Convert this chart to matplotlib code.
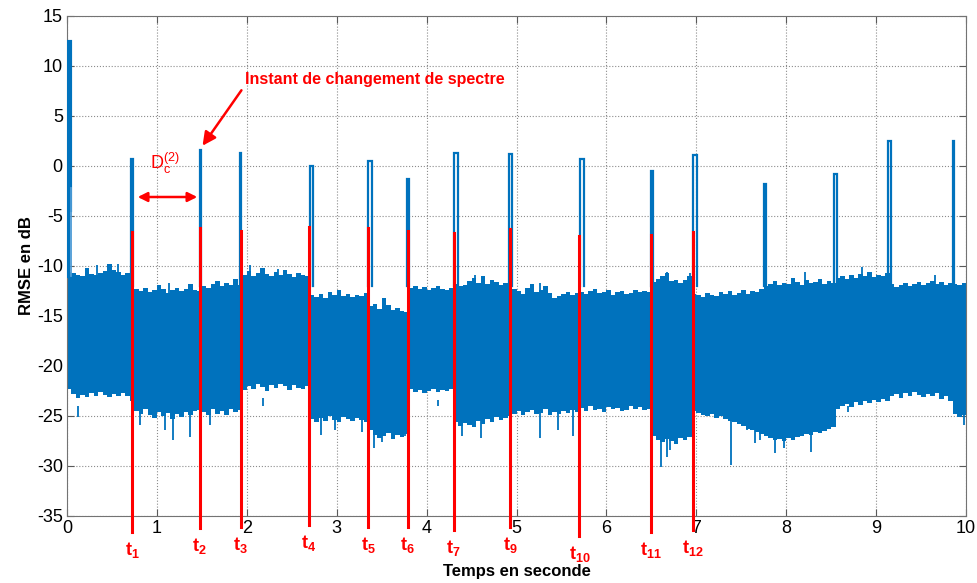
import numpy as np
import matplotlib
matplotlib.use('Agg')
import matplotlib.pyplot as plt

plt.rcParams['font.family'] = ['Liberation Sans', 'DejaVu Sans']
plt.rcParams['mathtext.fontset'] = 'custom'
plt.rcParams['mathtext.rm'] = 'Liberation Sans'
plt.rcParams['mathtext.bf'] = 'Liberation Sans:bold'
plt.rcParams['mathtext.it'] = 'Liberation Sans:italic'
plt.rcParams['axes.unicode_minus'] = False

# -- data ---------------------------------------------------------------
# noise band, one value per 0.05 s bin (0 .. 10 s)
band_step = 0.05
upper = [
    -10.6, -10.7, -10.9, -11.0, -10.2, -10.8, -10.9, -10.7, -10.5, -9.8, -10.4, -10.6, -10.9, -10.7,
    -11.2,
    -12.3, -12.5, -12.2, -12.6, -12.4, -11.9, -12.3, -12.7, -12.4, -12.2, -12.5, -12.3, -11.8, -12.4, -12.5,
    -12.0, -12.2, -11.8, -11.5, -12.0, -11.7, -11.9, -11.3, -11.9,
    -10.9, -10.5, -11.0, -10.7, -10.2, -10.8, -11.0, -10.6, -10.9, -10.4, -10.8, -11.1, -10.7, -10.9, -11.0,
    -12.9, -13.1, -12.8, -13.2, -12.6, -12.9, -12.4, -13.0, -12.8, -13.1, -12.9, -13.0, -12.7,
    -14.0, -13.8, -14.3, -13.2, -13.9, -14.4, -14.2, -14.5, -14.6,
    -12.2, -12.0, -12.3, -12.1, -12.4, -12.2, -12.0, -12.3, -12.4, -12.2,
    -11.8, -12.0, -11.9, -11.5, -11.2, -11.7, -11.0, -11.8, -11.4, -11.6, -11.9, -11.7, -11.8,
    -12.3, -12.5, -12.8, -12.2, -11.8, -12.6, -12.4, -12.0, -12.7, -13.2, -13.0, -12.8, -12.6, -12.9, -12.7,
    -12.6, -12.8, -12.5, -12.3, -12.7, -12.6, -12.4, -12.9, -12.6, -12.5, -12.8, -12.7, -12.4, -12.6, -12.5, -12.6,
    -11.6, -11.3, -11.0, -10.7, -11.5, -11.4, -11.7, -11.4, -11.0,
    -12.8, -12.9, -13.1, -12.7, -12.9, -13.0, -12.6, -12.8, -12.5, -12.9, -12.7, -12.4, -12.8, -12.5, -12.6, -12.3,
    -12.0, -11.8, -11.5, -11.9, -11.7, -11.8, -11.2, -11.6, -11.9, -11.4, -11.7, -11.6, -11.3, -11.8, -11.5, -11.7,
    -11.2, -11.0, -11.3, -10.9, -11.2, -10.8, -11.0, -10.6, -11.1, -10.9, -11.0, -10.7,
    -11.8, -12.1, -11.9, -11.7, -12.0, -11.8, -11.6, -11.9, -11.7, -11.5, -11.8, -11.6, -11.9, -11.7,
    -11.8, -11.9, -11.7,
]
lower = [
    -22.3, -22.8, -23.2, -22.9, -23.1, -22.7, -23.0, -22.6, -22.9, -23.1, -22.8, -23.0, -22.7, -23.0,
    -23.5,
    -24.5, -24.8, -24.3, -24.9, -25.2, -24.6, -25.0, -24.7, -25.3, -24.8, -25.1, -24.6, -24.9, -24.5, -24.4,
    -24.6, -24.9, -24.3, -24.8, -24.5, -24.9, -24.3, -24.6, -24.4,
    -22.4, -22.0, -22.3, -21.8, -22.1, -22.5, -21.9, -22.2, -21.8, -22.0, -22.4, -21.9, -22.2, -22.3, -22.0,
    -25.3, -25.6, -25.2, -25.5, -25.0, -25.4, -25.6, -25.1, -25.3, -25.5, -25.2, -25.4, -25.6,
    -26.4, -26.9, -27.2, -27.0, -26.7, -27.3, -26.9, -27.1, -26.8,
    -22.3, -22.6, -22.4, -22.7, -22.5, -22.3, -22.6, -22.4, -22.5, -22.3,
    -25.6, -26.0, -25.7, -25.9, -26.1, -25.5, -25.8, -25.3, -25.6, -25.1, -25.4, -25.2, -25.0,
    -24.8, -24.5, -24.9, -24.6, -24.4, -24.8, -24.7, -24.3, -24.9, -24.6, -24.8, -24.5, -24.7, -24.4, -24.6,
    -24.2, -24.5, -24.0, -24.4, -24.3, -24.6, -24.1, -24.3, -24.2, -24.5, -24.4, -24.0, -24.3, -24.1, -24.4, -24.3,
    -27.0, -27.4, -27.6, -27.3, -27.5, -27.8, -27.2, -27.4, -27.1,
    -24.5, -24.7, -24.9, -25.0, -24.8, -25.2, -25.0, -25.3, -25.5, -25.6, -25.8, -26.0, -26.3, -26.4, -26.6, -26.8,
    -27.0, -27.2, -27.4, -27.3, -27.5, -27.2, -27.4, -27.1, -27.0, -26.8, -26.9, -26.6, -26.7, -26.5, -26.3, -26.1,
    -24.3, -24.0, -23.8, -24.1, -23.6, -23.9, -23.5, -23.7, -23.4, -23.6, -23.3, -23.5,
    -23.0, -22.8, -23.2, -22.7, -23.0, -22.6, -22.9, -23.1, -22.8, -23.0, -22.7, -23.3, -23.0, -23.5,
    -24.8, -25.1, -24.9,
]

# isolated needles sticking out of the band
needle_t_low = [0.12, 0.81, 1.09, 1.18, 1.37, 1.59, 2.18, 2.83, 2.98, 3.28, 3.41, 3.50, 3.76, 4.13,
                4.39, 4.61, 5.26, 5.46, 5.63, 6.61, 6.67, 6.71, 7.39, 7.56, 7.65, 7.71, 7.88, 7.97,
                8.28, 8.69, 9.98]
needle_v_low = [-25.1, -25.9, -26.4, -27.4, -27.1, -25.9, -23.2, -26.9, -26.4, -26.6, -28.2, -27.6, -27.0, -23.4,
                -27.0, -27.2, -27.2, -26.4, -27.0, -30.1, -29.1, -28.4, -29.9, -26.4, -27.7, -27.4, -28.7, -28.2,
                -28.6, -24.6, -25.9]
needle_t_up = [0.33, 0.57, 1.13, 2.04, 2.35, 4.54, 5.26, 6.67, 6.93, 8.21, 8.84, 9.66]
needle_v_up = [-9.9, -9.8, -11.7, -9.9, -10.3, -10.9, -11.7, -10.6, -10.7, -10.6, -10.1, -10.9]

# spectrum change peaks: start time, width (s), peak (dB)
peak_t = [0.712, 1.474, 1.924, 2.703, 3.348, 3.787, 4.305, 4.922, 5.706, 6.496, 6.963, 7.753, 8.537, 9.132, 9.850]
peak_w = [0.020, 0.020, 0.015, 0.035, 0.040, 0.015, 0.040, 0.025, 0.045, 0.020, 0.045, 0.020, 0.030, 0.035, 0.020]
peak_v = [0.7, 1.6, 1.3, 0.0, 0.5, -1.3, 1.3, 1.2, 0.7, -0.5, 1.1, -1.8, -0.8, 2.5, 2.5]
start_t = [0.012, 0.012, 0.032, 0.032]
start_v = [-11.0, 12.4, 12.4, -4.4]
start_tail_t = [0.048, 0.048]
start_tail_v = [-2.2, -11.0]

# detected change instants (red markers)
marks = ['t_{1}', 't_{2}', 't_{3}', 't_{4}', 't_{5}', 't_{6}', 't_{7}', 't_{9}', 't_{10}', 't_{11}', 't_{12}']
mark_t = [0.722, 1.475, 1.93, 2.69, 3.35, 3.79, 4.30, 4.93, 5.70, 6.50, 6.96]
mark_top = [-6.6, -6.2, -6.5, -6.1, -6.2, -6.5, -6.7, -6.3, -7.0, -6.9, -6.6]
mark_bot = [-36.6, -36.2, -36.1, -35.9, -36.1, -36.1, -36.4, -36.1, -37.0, -36.6, -36.4]

blue = '#0072BD'
red = '#FF0000'

fig = plt.figure(figsize=(9.78, 5.83), dpi=100)
ax = fig.add_axes([67/978, 1 - 516/583, 899/978, 500/583])

tb = np.arange(len(upper) + 1) * band_step
ax.fill_between(tb, upper + [upper[-1]], lower + [lower[-1]], step='post',
                color=blue, lw=0, zorder=2)
ax.vlines(needle_t_low, -24, needle_v_low, color=blue, lw=1.3, zorder=2)
ax.vlines(needle_t_up, -13, needle_v_up, color=blue, lw=1.3, zorder=2)

for t0, w, v in zip(peak_t, peak_w, peak_v):
    ax.plot([t0, t0, t0 + w, t0 + w], [-12, v, v, -12], color=blue, lw=1.6, zorder=3,
            solid_joinstyle='miter')
ax.plot(start_t, start_v, color=blue, lw=3.0, zorder=3, solid_joinstyle='miter')
ax.plot(start_tail_t, start_tail_v, color='#4D9BD6', lw=1.3, zorder=3)

for lab, t, top, bot in zip(marks, mark_t, mark_top, mark_bot):
    ax.plot([t, t], [top, bot], color=red, lw=2.2, zorder=4, clip_on=False)
    ax.text(t, bot - 0.8, r'$\mathbf{%s}$' % lab, color=red, fontsize=13,
            ha='center', va='top')

ax.annotate('', xy=(1.49, 1.8), xytext=(1.958, 7.8),
            arrowprops=dict(arrowstyle='-|>', color=red, lw=1.8, mutation_scale=20))
ax.text(1.98, 8.6, 'Instant de changement de spectre', color=red, fontsize=11.5,
        fontweight='bold', va='center', ha='left')
ax.annotate('', xy=(0.756, -3.1), xytext=(1.48, -3.1),
            arrowprops=dict(arrowstyle='<|-|>', color=red, lw=1.8, mutation_scale=14))
ax.text(0.92, 0.3, r'$\mathrm{D_c^{(2)}}$', color=red, fontsize=13, ha='left', va='center')

ax.set_xlim(0, 10)
ax.set_ylim(-35, 15)
ax.set_xticks(range(0, 11))
ax.set_yticks(range(-35, 16, 5))
ax.grid(True, linestyle=':', color='0.55', lw=0.8)
ax.set_axisbelow(True)
ax.tick_params(direction='in', top=True, right=True, length=5, labelsize=13,
               color='0.35', pad=3)
for s in ax.spines.values():
    s.set_color('0.45')
ax.set_xlabel('Temps en seconde', fontsize=12, fontweight='bold', labelpad=19)
ax.set_ylabel('RMSE en dB', fontsize=12, fontweight='bold', labelpad=2)

fig.savefig('out.png', dpi=100)
